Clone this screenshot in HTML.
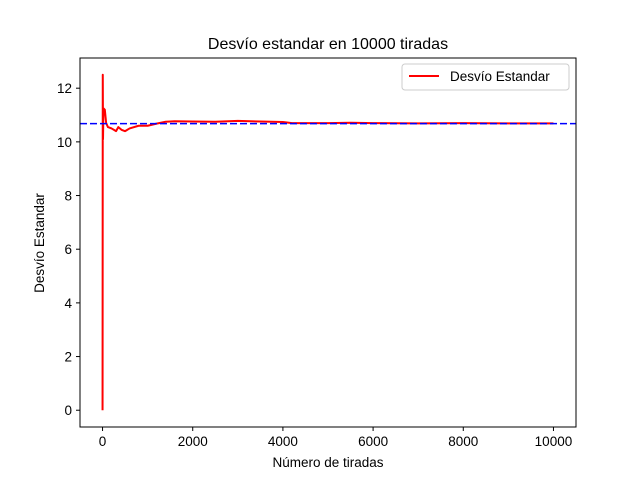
<!DOCTYPE html>
<html><head><meta charset="utf-8"><style>
body{margin:0;background:#fff}
svg{font-family:"Liberation Sans","DejaVu Sans",sans-serif}
</style></head><body>
<svg width="640" height="480" id="c">
<rect x="0" y="0" width="640" height="480" fill="#fff"/>
<text x="328" y="49" font-size="16" text-anchor="middle">Desvío estandar en 10000 tiradas</text>
<text x="328" y="467" font-size="13.5" text-anchor="middle">Número de tiradas</text>
<text transform="translate(44,243) rotate(-90)" font-size="13.5" text-anchor="middle">Desvío Estandar</text>
<g id="plot"></g>
<rect x="80" y="58" width="496" height="369" fill="none" stroke="#000" stroke-width="1"/>
<g>
<rect x="402" y="64" width="167" height="26" rx="3" fill="#fff" stroke="#ccc"/>
<line x1="409" y1="76" x2="439" y2="76" stroke="red" stroke-width="2"/>
<text x="450" y="81" font-size="13.5">Desvío Estandar</text>
</g>
</svg>
<script>
const xTicks=[0,2000,4000,6000,8000,10000];
const yTicks=[0,2,4,6,8,10,12];
const tirada=[0,5,10,20,50,80,120,200,300,350,420,500,600,800,1000,1200,1400,1600,2000,2500,3000,3500,4000,4200,5000,5500,6000,7000,8000,9000,10000];
const desvio=[0,12.5,10.1,11.25,11.2,10.7,10.55,10.5,10.4,10.55,10.45,10.4,10.5,10.6,10.6,10.68,10.75,10.77,10.76,10.75,10.78,10.76,10.74,10.7,10.7,10.71,10.7,10.69,10.7,10.69,10.69];
const media=[10.68];
const X0=-500,X1=10500,Y0=-0.625,Y1=13.125;
const sx=v=>80+(v-X0)/(X1-X0)*496;
const sy=v=>427-(v-Y0)/(Y1-Y0)*369;
const NS="http://www.w3.org/2000/svg";
const g=document.getElementById('plot');
function mk(t,a){const e=document.createElementNS(NS,t);for(const k in a)e.setAttribute(k,a[k]);g.appendChild(e);return e;}
xTicks.forEach(v=>{
 const l=mk('line',{x1:sx(v),x2:sx(v),y1:427,y2:431,stroke:'#000'});
 
 
 const t=mk('text',{x:sx(v),y:446,'font-size':13.5,'text-anchor':'middle'});t.textContent=v;
 
 
});
yTicks.forEach(v=>{
 const l=mk('line',{x1:76,x2:80,y1:sy(v),y2:sy(v),stroke:'#000'});
 
 
 const t=mk('text',{x:72,y:sy(v)+5,'font-size':13.5,'text-anchor':'end'});t.textContent=v;
 
 
});
const d=tirada.map((x,i)=>(i?'L':'M')+sx(x).toFixed(2)+','+sy(desvio[i]).toFixed(2)).join('');
const p=mk('path',{d:d,fill:'none',stroke:'red','stroke-width':2,'stroke-linejoin':'round'});


const h=mk('line',{x1:80,x2:576,y1:sy(media[0]),y2:sy(media[0]),stroke:'blue','stroke-width':1.6,'stroke-dasharray':'7,3'});


</script>
</body></html>
